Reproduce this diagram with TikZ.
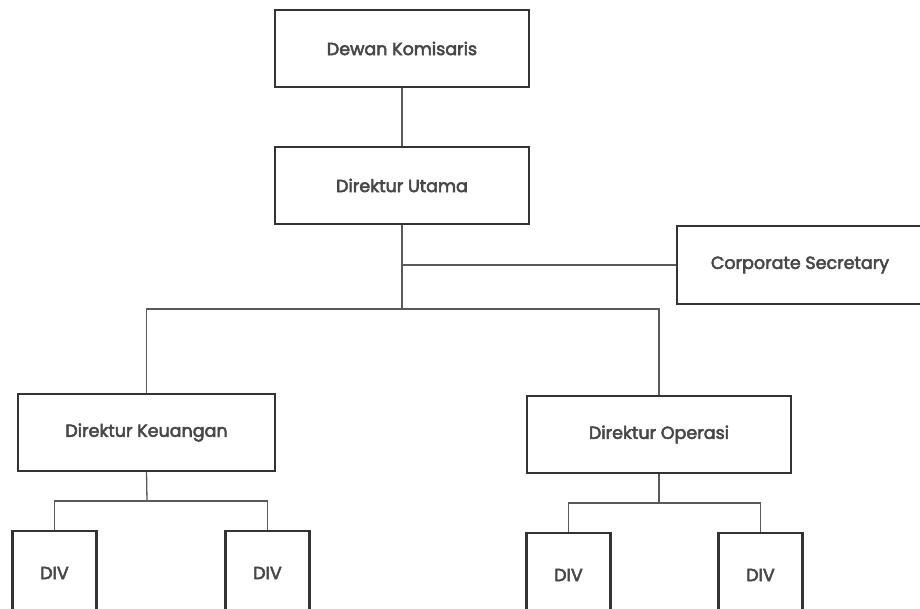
\documentclass[tikz,border=0pt]{standalone}
\usepackage{fontspec}
\newfontfamily\chartfont{Poppins}[FakeBold=3]
\definecolor{ink}{HTML}{333333}
\definecolor{wire}{HTML}{5A5A5A}
\begin{document}
\begin{tikzpicture}[x=1pt, y=-1pt,
  box/.style = {draw=ink, line width=2.2pt, fill=white, text=ink!90,
                font=\chartfont\fontsize{17.5}{19}\selectfont, inner sep=0pt},
  unit/.style = {box, minimum width=254pt, minimum height=77pt},
  div/.style = {box, minimum width=84pt, minimum height=84pt},
  link/.style = {draw=wire, line width=1.3pt}]
\useasboundingbox (0,0) rectangle (920,608);
\clip (0,0) rectangle (920,608);
\fill[white] (0,0) rectangle (920,608);

\node[unit] (dk) at (402,48.5) {Dewan Komisaris};
\node[unit] (du) at (402,185.5) {Direktur Utama};
\node[unit, minimum width=246pt, minimum height=78pt] (cs) at (800,265) {Corporate Secretary};
\node[unit, minimum width=257pt] (keu) at (146.5,432.5) {Direktur Keuangan};
\node[unit, minimum width=264pt] (ops) at (659,434.5) {Direktur Operasi};
\node[div] (div1) at (54.5,573) {DIV};
\node[div] (div2) at (267.5,573) {DIV};
\node[div] (div3) at (568.5,575) {DIV};
\node[div] (div4) at (760.5,575) {DIV};

\coordinate (hub) at (402,309);
\coordinate (kfork) at (147,501);
\coordinate (ofork) at (659,503);

\draw[link] (dk.south) -- (du.north);
\draw[link] (du.south) -- (hub);
\draw[link] (cs.west) -- (cs.west -| hub);
\draw[link] (keu.north) |- (hub) -| (ops.north);
\draw[link] (keu.south) -- (kfork);
\draw[link] (div1.north) |- (kfork) -| (div2.north);
\draw[link] (ops.south) -- (ofork);
\draw[link] (div3.north) |- (ofork) -| (div4.north);
\end{tikzpicture}
\end{document}
